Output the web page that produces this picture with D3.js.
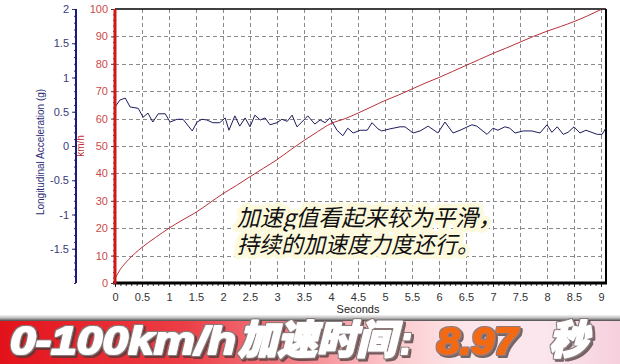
<!DOCTYPE html>
<html><head><meta charset="utf-8">
<script src="https://cdn.jsdelivr.net/npm/d3@7"></script>
<style>
html,body{margin:0;padding:0;background:#fff;}
svg{display:block;}
</style></head>
<body>
<svg id="c" width="620" height="364"></svg>
<script>
// ---- data ----
const speedTime = [0,0.1,0.25,0.5,0.75,1.0,1.25,1.5,1.75,2.0,2.25,2.5,2.75,3.0,3.25,3.5,3.75,4.0,4.25,4.5,4.75,5.0,5.25,5.5,5.75,6.0,6.25,6.5,6.75,7.0,7.25,7.5,7.75,8.0,8.25,8.5,8.75,9.0];
const speedKmh  = [1.6,5,8.5,13,16.6,20,23,25.8,29.2,32.6,35.6,38.8,41.9,45,48.6,52,55.2,58.2,59.9,62.0,64.3,66.6,68.6,70.8,73.0,75.0,77.2,79.4,81.6,83.8,85.8,87.9,90.0,91.9,93.6,95.4,97.5,99.8];
const accelTime = [0,0.09,0.19,0.28,0.43,0.52,0.61,0.70,0.80,0.93,1.02,1.15,1.26,1.43,1.52,1.61,1.70,1.81,1.94,2.04,2.11,2.22,2.31,2.41,2.50,2.59,2.69,2.78,2.87,3.00,3.09,3.19,3.28,3.37,3.46,3.57,3.70,3.80,3.89,3.98,4.11,4.22,4.31,4.41,4.54,4.67,4.76,4.87,4.94,5.09,5.28,5.37,5.52,5.65,5.80,5.98,6.11,6.26,6.39,6.61,6.70,6.89,7.00,7.09,7.22,7.31,7.41,7.56,7.72,7.87,8.00,8.09,8.19,8.30,8.39,8.50,8.61,8.72,8.93,9.02,9.09];
const accelG    = [0.57,0.67,0.70,0.57,0.55,0.42,0.48,0.35,0.47,0.47,0.35,0.39,0.39,0.22,0.35,0.39,0.38,0.34,0.34,0.41,0.23,0.44,0.29,0.41,0.28,0.45,0.38,0.41,0.31,0.34,0.39,0.36,0.45,0.28,0.35,0.44,0.32,0.38,0.34,0.41,0.23,0.15,0.26,0.19,0.23,0.23,0.34,0.25,0.22,0.25,0.28,0.28,0.19,0.22,0.29,0.19,0.35,0.19,0.23,0.31,0.29,0.17,0.26,0.23,0.28,0.26,0.19,0.22,0.22,0.19,0.31,0.20,0.28,0.17,0.20,0.28,0.19,0.23,0.17,0.17,0.26];
const xTicks = [0,0.5,1,1.5,2,2.5,3,3.5,4,4.5,5,5.5,6,6.5,7,7.5,8,8.5,9];
const kmhTicks = [0,10,20,30,40,50,60,70,80,90,100];
const gTicks = [2,1.5,1,0.5,0,-0.5,-1,-1.5];
const gTickLabels = ["2","1.5","1","0.5","0","-0.5","-1","-1.5"];
const note = ["加速g值看起来较为平滑，","持续的加速度力度还行。"];
const bannerText = {a:"0-100km/h", b:"加速时间", c:":", v:"8.97", u:"秒"};

// ---- layout ----
const svg = d3.select("#c");
const L = 115, R = 601, RB = 606, T = 9, B = 283;
const x = d3.scaleLinear().domain([0,9]).range([L,R]);
const yK = d3.scaleLinear().domain([0,100]).range([B,T]);
const yG = d3.scaleLinear().domain([-2,2]).range([B,T]);

// grid
const grid = svg.append("g").attr("stroke","#8a8a8a").attr("stroke-width",1).attr("stroke-dasharray","4,3");
xTicks.filter(d=>d>0).forEach(d=>grid.append("line").attr("x1",Math.round(x(d))+0.5).attr("x2",Math.round(x(d))+0.5).attr("y1",T).attr("y2",B));
kmhTicks.filter(d=>d>0&&d<100).forEach(d=>grid.append("line").attr("y1",Math.round(yK(d))+0.5).attr("y2",Math.round(yK(d))+0.5).attr("x1",L).attr("x2",RB));

// frame
svg.append("line").attr("x1",L).attr("x2",RB).attr("y1",T).attr("y2",T).attr("stroke","#000").attr("stroke-width",1.5);
svg.append("line").attr("x1",RB).attr("x2",RB).attr("y1",T).attr("y2",B).attr("stroke","#000").attr("stroke-width",2);

// data lines
svg.append("path").datum(accelTime.map((t,i)=>[t,accelG[i]]))
  .attr("fill","none").attr("stroke","#1c1c5c").attr("stroke-width",1)
  .attr("d",d3.line().x(d=>x(d[0])).y(d=>yG(d[1])));
svg.append("path").datum(speedTime.map((t,i)=>[t,speedKmh[i]]))
  .attr("fill","none").attr("stroke","#b8303a").attr("stroke-width",1)
  .attr("d",d3.line().curve(d3.curveMonotoneX).x(d=>x(d[0])).y(d=>yK(d[1])));

// bottom axis
const minorX = d3.range(0,9.001,0.1);
const xa = svg.append("g").attr("transform",`translate(0,${B})`)
  .call(d3.axisBottom(x).tickValues(minorX).tickSize(3).tickFormat(""));
xa.select(".domain").remove();
xa.selectAll("line").attr("stroke","#333");
const xl = svg.append("g").attr("transform",`translate(0,${B})`)
  .call(d3.axisBottom(x).tickValues(xTicks).tickSize(4).tickPadding(6).tickFormat(d=>String(d)));
xl.select(".domain").remove();
xl.selectAll("line").attr("stroke","#222");
xl.selectAll("text").attr("font-family","Liberation Sans, Arial").attr("font-size",11).attr("fill","#333");
svg.append("line").attr("x1",L-2).attr("x2",RB+1).attr("y1",B).attr("y2",B).attr("stroke","#000").attr("stroke-width",3);
svg.append("text").attr("x",358).attr("y",313).attr("text-anchor","middle")
  .attr("font-family","Liberation Sans, Arial").attr("font-size",11).attr("fill","#222").text("Seconds");

// km/h axis
const ka = svg.append("g").attr("transform",`translate(${L},0)`)
  .call(d3.axisLeft(yK).tickValues(d3.range(0,100.01,2)).tickSize(2).tickFormat(""));
ka.select(".domain").remove();
ka.selectAll("line").attr("stroke","#553333");
const kl = svg.append("g").attr("transform",`translate(${L},0)`)
  .call(d3.axisLeft(yK).tickValues(kmhTicks).tickSize(4).tickPadding(3));
kl.select(".domain").remove();
kl.selectAll("line").attr("stroke","#553333");
kl.selectAll("text").attr("font-family","Liberation Sans, Arial").attr("font-size",11).attr("fill","#cc4a4a");
svg.append("line").attr("x1",L).attr("x2",L).attr("y1",T).attr("y2",B+1).attr("stroke","#d01818").attr("stroke-width",3);
svg.append("text").attr("transform","translate(84,146) rotate(-90)").attr("text-anchor","middle")
  .attr("font-family","Liberation Sans, Arial").attr("font-size",10).attr("fill","#c83030").text("km/h");

// g axis
const GX = 76;
const ga = svg.append("g").attr("transform",`translate(${GX},0)`)
  .call(d3.axisLeft(yG).tickValues(d3.range(-2,2.001,0.1)).tickSize(2).tickFormat(""));
ga.select(".domain").remove();
ga.selectAll("line").attr("stroke","#333366");
const gl = svg.append("g").attr("transform",`translate(${GX},0)`)
  .call(d3.axisLeft(yG).tickValues(gTicks).tickSize(4).tickPadding(3).tickFormat((d,i)=>gTickLabels[i]));
gl.select(".domain").remove();
gl.selectAll("line").attr("stroke","#333366");
gl.selectAll("text").attr("font-family","Liberation Sans, Arial").attr("font-size",11).attr("fill","#3a3a7a");
svg.append("line").attr("x1",GX).attr("x2",GX).attr("y1",T).attr("y2",B).attr("stroke","#1a1a80").attr("stroke-width",2);
svg.append("text").attr("transform","translate(44,152) rotate(-90)").attr("text-anchor","middle")
  .attr("font-family","Liberation Sans, Arial").attr("font-size",10).attr("fill","#2e2e78").text("Longitudinal Acceleration (g)");

// annotation
const nt = svg.append("g").attr("font-family","Noto Sans CJK SC").attr("font-size",23).attr("font-style","italic");
note.forEach((s,i)=>{
  nt.append("text").attr("x",237).attr("y",226+i*27).text(s)
    .attr("textLength", i===0?264:242).attr("lengthAdjust","spacingAndGlyphs")
    .attr("fill","#111").attr("stroke","#fdf9dc").attr("stroke-width",9).attr("stroke-linejoin","round")
    .style("paint-order","stroke");
});

// banner
const defs = svg.append("defs");
const g1 = defs.append("linearGradient").attr("id","bn").attr("x1","0").attr("x2","1").attr("y1","0").attr("y2","0");
[[0,"#e3121a"],[0.3,"#ec3e46"],[0.5,"#f58b92"],[0.63,"#fcc8cc"],[0.75,"#fde6ea"],[0.88,"#fbe6ee"],[1,"#f6d0dc"]]
  .forEach(s=>g1.append("stop").attr("offset",s[0]).attr("stop-color",s[1]));
const g2 = defs.append("linearGradient").attr("id","sh").attr("x1","0").attr("x2","0").attr("y1","0").attr("y2","1");
[[0,"#f4f4f4"],[0.5,"#bdbdbd"],[1,"#4a4a4a"]].forEach(s=>g2.append("stop").attr("offset",s[0]).attr("stop-color",s[1]));
// outline + drop shadow filter
const f = defs.append("filter").attr("id","tx").attr("x","-10%").attr("y","-20%").attr("width","130%").attr("height","150%");
f.append("feMorphology").attr("in","SourceAlpha").attr("operator","dilate").attr("radius",1.4).attr("result","dil");
f.append("feFlood").attr("flood-color","#8a7a7a").attr("result","c1");
f.append("feComposite").attr("in","c1").attr("in2","dil").attr("operator","in").attr("result","outline");
f.append("feOffset").attr("in","dil").attr("dx",2).attr("dy",2).attr("result","off");
f.append("feFlood").attr("flood-color","#4a3a3a").attr("flood-opacity",0.75).attr("result","c2");
f.append("feComposite").attr("in","c2").attr("in2","off").attr("operator","in").attr("result","shadow");
const fm = f.append("feMerge");
fm.append("feMergeNode").attr("in","shadow");
fm.append("feMergeNode").attr("in","outline");
fm.append("feMergeNode").attr("in","SourceGraphic");

svg.append("rect").attr("x",0).attr("y",315).attr("width",620).attr("height",6).attr("fill","url(#sh)");
svg.append("rect").attr("x",0).attr("y",321).attr("width",620).attr("height",43).attr("fill","url(#bn)");

function bt(txt,xp,len,fam,fill,size){
  svg.append("text").attr("x",xp).attr("y",354).text(txt)
    .attr("font-family",fam).attr("font-size",size).attr("font-weight",900).attr("font-style","italic")
    .attr("fill",fill).attr("stroke",fill).attr("stroke-width",1.8).attr("stroke-linejoin","round")
    .attr("textLength",len).attr("lengthAdjust","spacingAndGlyphs")
    .attr("filter","url(#tx)");
}
bt(bannerText.a,10,226,"Liberation Sans, Arial","#fff",38);
bt(bannerText.b,238,158,"Noto Sans CJK SC","#fff",40);
bt(bannerText.c,400,12,"Liberation Sans, Arial","#fff",38);
bt(bannerText.v,437,80,"Liberation Sans, Arial","#f26a12",36);
bt(bannerText.u,549,39,"Noto Sans CJK SC","#fff",40);
</script>
</body></html>
